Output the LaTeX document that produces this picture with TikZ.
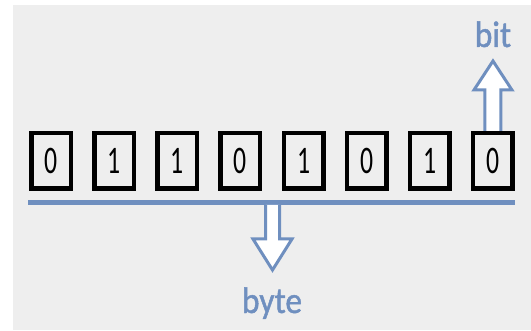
\documentclass[tikz,border=0pt]{standalone}
\usepackage{fontspec}
\setmainfont{Carlito}
\newfontfamily\digitfont[FakeStretch=0.66]{Carlito}
\newfontfamily\lblfont[FakeStretch=0.9,FakeBold=1.2]{Carlito}
\usetikzlibrary{calc,positioning}
\definecolor{bgGray}{RGB}{238,238,238}
\definecolor{busBlue}{RGB}{111,143,191}

\begin{document}
\begin{tikzpicture}[
  x=1pt, y=1pt,
  bitbox/.style={draw=black, line width=4.5pt, fill=bgGray,
    minimum width=39.5pt, minimum height=55.5pt, inner sep=0pt,
    font=\digitfont\fontsize{39}{39}\selectfont},
  bus/.style={draw=busBlue, line width=5pt},
  blk/.style={draw=busBlue, line width=3pt, fill=white, line join=miter},
  lbl/.style={text=busBlue, font=\lblfont\fontsize{37}{37}\selectfont, inner sep=0pt}
]
\useasboundingbox (0,0) rectangle (531,330);
\fill[bgGray] (13,0) rectangle (531,325);

% the eight bits
\foreach \v [count=\i from 0] in {0,1,1,0,1,0,1,0}
  \node[bitbox] (b\i) at ({51+63.14*\i},169) {\v};

% byte line
\coordinate (busL) at (28,127.5);
\coordinate (busR) at (515,127.5);
\draw[bus] (busL) -- (busR);
\coordinate (busM) at ($(busL)!0.5!(busR)+(1,-2.5)$);

% byte arrow
\draw[blk] ($(busM)+(-7,0)$) -- ++(0,-34) -- ++(-12.5,0)
  -- ($(busM)+(0,-65)$) -- ($(busM)+(19.5,-34)$) -- ++(-12.5,0)
  -- ($(busM)+(7,0)$);
\node[lbl, anchor=base] (byte) at (272,17) {byte};

% bit arrow
\draw[blk] ([xshift=-8pt]b7.north) -- ++(0,41) -- ++(-11,0)
  -- ($(b7.north)+(0,70)$) -- ($(b7.north)+(19,41)$) -- ++(-11,0)
  -- ([xshift=8pt]b7.north);
\node[lbl, anchor=base] (bit) at (493,283) {bit};
\end{tikzpicture}
\end{document}
